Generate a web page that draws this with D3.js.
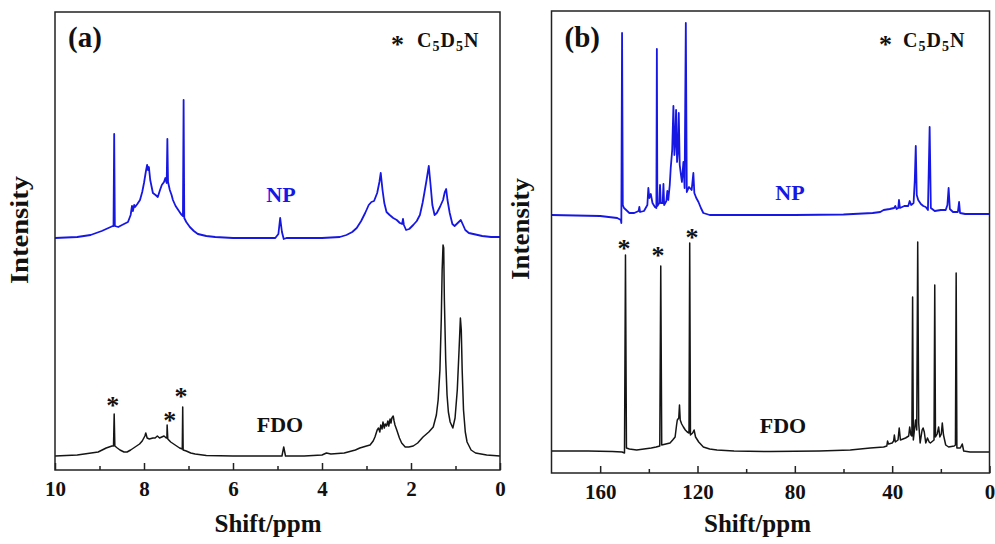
<!DOCTYPE html>
<html>
<head>
<meta charset="utf-8">
<script src="https://cdn.jsdelivr.net/npm/d3@7"></script>
<style>
  html, body { margin: 0; padding: 0; background: #fff; }
  svg { display: block; }
  text { font-family: "Liberation Serif", "Times New Roman", serif; font-weight: bold; }
</style>
</head>
<body>
<svg id="chart" width="995" height="544"></svg>
<script>
// ---------------- DATA ----------------
// (a) 1H NMR, shift in ppm, intensity in arbitrary units
const ticksA = [10, 8, 6, 4, 2, 0];
const minorTicksA = [9, 7, 5, 3, 1];
const domainA = [10, 0];
const intensityDomainA = [0, 458];

const npA = [
  [10.0,232],[9.5,233],[9.2,235],[8.95,239],[8.8,242],[8.7,244],[8.685,244],[8.67,336],[8.655,244],
  [8.58,243],[8.45,246],[8.36,248],[8.30,255],[8.27,264],[8.25,259],[8.22,265],[8.2,263],[8.15,266],
  [8.09,270],[8.04,278],[8.0,287],[7.96,298],[7.93,305],[7.91,300],[7.89,303],[7.86,290],[7.80,277],
  [7.74,275],[7.69,273],[7.64,280],[7.60,285],[7.55,288],[7.52,292],[7.49,287],[7.475,331],[7.46,288],
  [7.42,280],[7.38,275],[7.35,270],[7.29,264],[7.23,260],[7.17,256],[7.125,254],[7.11,370],[7.095,252],
  [7.05,248],[6.97,243],[6.88,239],[6.79,236],[6.6,234],[6.4,233],[6.0,232],[5.5,232],[5.05,232],
  [4.98,236],[4.94,252],[4.9,238],[4.86,231],[4.8,232],[4.0,232],[3.6,233],[3.45,235],[3.32,238],
  [3.22,242],[3.12,249],[3.03,257],[2.95,265],[2.89,268],[2.83,269],[2.76,277],[2.71,288],[2.68,297],
  [2.64,280],[2.6,267],[2.55,258],[2.48,255],[2.40,252],[2.32,250],[2.25,247],[2.2,246],[2.18,251],
  [2.16,245],[2.11,240],[2.04,241],[1.95,245],[1.87,249],[1.80,255],[1.74,267],[1.7,277],[1.65,290],
  [1.60,304],[1.56,285],[1.52,265],[1.47,255],[1.42,257],[1.35,263],[1.28,270],[1.24,278],[1.21,281],
  [1.18,270],[1.13,257],[1.07,246],[1.02,244],[0.95,247],[0.88,250],[0.83,245],[0.78,240],[0.7,237],
  [0.6,236],[0.4,234],[0.2,233],[0.0,233]
];

const fdoA = [
  [10.0,14],[9.5,15],[9.03,18],[8.85,22],[8.72,24],[8.685,24],[8.67,56],[8.655,24],[8.6,22],[8.54,20],
  [8.45,18],[8.38,18],[8.3,20],[8.2,23],[8.1,26],[8.04,29],[7.98,34],[7.96,37],[7.93,32],[7.88,31],
  [7.8,32],[7.75,32],[7.7,34],[7.65,32],[7.6,33],[7.55,34],[7.5,32],[7.485,32],[7.48,45],[7.465,31],
  [7.4,28],[7.3,25],[7.2,22],[7.14,21],[7.13,63],[7.12,20],[7.05,19],[6.95,17],[6.85,16],[6.6,14.5],
  [6.0,14],[5.2,14],[4.9,14],[4.86,23],[4.82,14],[4.4,14],[4.0,15],[3.9,17],[3.8,16],[3.5,17],
  [3.25,20],[3.15,22],[3.0,24],[2.92,25],[2.85,29],[2.81,33],[2.76,40],[2.73,42],[2.70,38],[2.68,45],
  [2.65,41],[2.63,48],[2.60,42],[2.58,46],[2.55,44],[2.52,49],[2.5,44],[2.47,51],[2.45,47],[2.43,52],
  [2.40,54],[2.38,49],[2.36,45],[2.32,40],[2.26,32],[2.21,27],
  [2.13,23],[2.05,23],[1.95,24],[1.85,27],[1.73,33],[1.6,38],[1.5,43],[1.43,55],[1.39,70],[1.35,100],
  [1.32,150],[1.30,200],[1.28,225],[1.265,222],[1.25,170],[1.22,110],[1.19,75],[1.16,58],[1.12,48],
  [1.06,42],[1.01,52],[0.96,80],[0.92,120],[0.89,152],[0.87,140],[0.85,100],[0.82,60],[0.78,38],
  [0.74,28],[0.65,20],[0.55,17],[0.3,15],[0.0,14]
];

const starsA = [[8.70,68],[7.42,53],[7.17,77]];

// (b) 13C NMR
const ticksB = [160, 120, 80, 40, 0];
const minorTicksB = [140, 100, 60, 20];
const domainB = [180, 0];
const intensityDomainB = [0, 462];

const npB = [
  [180,258],[170,257.5],[160,257],[153,255],[151.5,253],[151.3,250],[151.0,440],[150.7,268],[150.2,265],
  [148,260],[146,260],[144.2,262],[143.9,266],[143.6,261],[142,262],[140.6,268],[140.2,285],[139.8,275],
  [139.2,279],[138.5,270],[137.5,266],[136.9,265],[136.7,424],[136.5,267],[135.7,270],[135.4,288],
  [135.1,270],[134.3,270],[134.0,289],[133.7,268],[132.8,272],[132.4,282],[132.0,273],[131.4,288],
  [131.0,305],[130.4,323],[129.9,367],[129.5,318],[129.2,328],[128.8,363],[128.4,311],[128.0,323],
  [127.7,360],[127.3,308],[126.8,298],[126.4,291],[125.8,311],[125.3,285],[124.8,450],[124.4,281],
  [123.5,286],[122.4,283],[121.7,300],[121.3,280],[120.5,275],[119.6,271],[118.6,265],[117.6,260],
  [115,258],[110,258],[100,258],[80,258],[60,258.5],[48,260],[44.9,261],[43.5,263],[41,264],[39.2,265],
  [38.7,267],[38.2,264],[37.5,265],[37.2,273],[36.8,265],[35,267],[33.4,267],[32.8,272],[32.2,268],
  [31.2,270],[30.7,293],[30.3,327],[29.9,278],[29.3,273],[28.2,269],[27.2,267],[26.2,266],[25.3,263],
  [24.6,346],[24.1,265],[22.5,262],[20,263],[18,263],[17.3,268],[16.8,285],[16.3,264],[15,261],[13,261],
  [12.5,271],[12.1,260],[10,259],[5,259],[0,259]
];

const fdoB = [
  [180,22],[165,22],[155,21.5],[151,21],[150.0,20],[149.6,218],[149.2,25],[148,24],[145,23],[142,24],
  [139,25],[137,26],[135.5,27],[135.1,207],[134.7,28],[133,29],[131.3,30],[130.2,33],[129.2,36],
  [128.6,48],[128.3,53],[127.7,55],[127.4,68],[127.1,53],[126.5,49],[125.8,46],[125,43],[124.2,41],
  [123.5,40],[123.2,230],[122.9,38],[122.0,40],[121.4,43],[120.8,36],[119.5,31],[117.6,26],[115,24],
  [112,23],[105,22],[90,21.5],[70,22],[57.2,23],[49,25],[43.5,26],[42.2,27],[41.9,32],[41.5,29],[40,30],
  [39.4,32],[39.1,38],[38.7,31],[37.6,33],[37.1,45],[36.6,33],[34.5,35],[33.2,37],[32.8,46],[32.3,38],
  [31.9,37],[31.6,176],[31.3,33],[30.4,53],[29.9,43],[29.5,231],[29.1,50],[28.5,30],[27.7,43],[27.3,45],
  [26.8,41],[26.2,30],[25.5,35],[24.8,31],[24.3,30],[22.8,33],[22.5,188],[22.2,36],[21.5,39],[20.9,46],
  [20.4,36],[19.8,39],[19.4,50],[18.9,38],[18.0,28],[16.8,26],[14.5,27],[14.0,28],[13.7,200],[13.4,25],
  [12,25],[11.2,29],[10.6,22],[8,21],[4,21],[0,21]
];

const starsB = [[150.2,228],[136.2,221],[122.3,239]];

// ---------------- DRAW ----------------
const svg = d3.select("#chart");
const BLUE = "#1717e3";
const BLACK = "#151515";
const FONT = '"Liberation Serif", "Times New Roman", serif';

function panel(cfg) {
  const x = d3.scaleLinear().domain(cfg.domain).range([cfg.left, cfg.right]);
  const y = d3.scaleLinear().domain(cfg.yDomain).range([cfg.bottom, cfg.top]);
  const g = svg.append("g");

  const line = d3.line().x(d => x(d[0])).y(d => y(d[1]));
  g.append("path").datum(cfg.fdo).attr("d", line)
    .attr("fill", "none").attr("stroke", BLACK).attr("stroke-width", 1.5).attr("stroke-linejoin", "round");
  g.append("path").datum(cfg.np).attr("d", line)
    .attr("fill", "none").attr("stroke", BLUE).attr("stroke-width", 1.8).attr("stroke-linejoin", "round");

  // frame
  g.append("rect").attr("x", cfg.left).attr("y", cfg.top)
    .attr("width", cfg.right - cfg.left).attr("height", cfg.bottom - cfg.top)
    .attr("fill", "none").attr("stroke", "#222").attr("stroke-width", 1.5);

  // axes (ticks inward)
  const ax = g.append("g").attr("transform", `translate(0,${cfg.bottom})`)
    .call(d3.axisBottom(x).tickValues(cfg.ticks).tickSize(-7).tickPadding(11).tickFormat(d3.format("d")));
  ax.select(".domain").remove();
  ax.selectAll(".tick line").attr("stroke", "#222").attr("stroke-width", 1.5);
  ax.selectAll(".tick text").attr("font-family", FONT).attr("font-weight", "bold")
    .attr("font-size", 21).attr("fill", "#111");
  const mx = g.append("g").attr("transform", `translate(0,${cfg.bottom})`)
    .call(d3.axisBottom(x).tickValues(cfg.minor).tickSize(-4).tickFormat(""));
  mx.select(".domain").remove();
  mx.selectAll(".tick line").attr("stroke", "#222").attr("stroke-width", 1.5);

  // axis titles
  g.append("text").attr("x", cfg.xTitleX).attr("y", 532)
    .attr("text-anchor", "middle").attr("font-size", 25).attr("fill", "#111").text("Shift/ppm");
  g.append("text").attr("transform", `translate(${cfg.yTitle[0]},${cfg.yTitle[1]}) rotate(-90)`)
    .attr("text-anchor", "middle").attr("font-size", 25).attr("fill", "#111")
    .attr("textLength", cfg.yTitle[2]).attr("lengthAdjust", "spacingAndGlyphs").text("Intensity");

  // panel label
  g.append("text").attr("x", cfg.left + 13).attr("y", 47)
    .attr("font-size", 29).attr("fill", "#111").text(cfg.label);

  // legend
  g.append("text").attr("x", cfg.legend[0]).attr("y", 53).attr("text-anchor", "middle")
    .attr("font-size", 26).attr("fill", "#111").text("*");
  const lt = g.append("text").attr("x", cfg.legend[1]).attr("y", 47)
    .attr("font-size", 20).attr("letter-spacing", 1).attr("fill", "#111");
  lt.append("tspan").text("C");
  lt.append("tspan").attr("font-size", 14).attr("dy", 4).text("5");
  lt.append("tspan").attr("dy", -4).text("D");
  lt.append("tspan").attr("font-size", 14).attr("dy", 4).text("5");
  lt.append("tspan").attr("dy", -4).text("N");

  // spectrum labels
  g.append("text").attr("x", cfg.npLabel[0]).attr("y", cfg.npLabel[1]).attr("text-anchor", "middle")
    .attr("font-size", 22).attr("fill", BLUE).text("NP");
  g.append("text").attr("x", cfg.fdoLabel[0]).attr("y", cfg.fdoLabel[1]).attr("text-anchor", "middle")
    .attr("font-size", 22).attr("fill", "#111").text("FDO");

  // solvent asterisks
  g.selectAll(".star").data(cfg.stars).enter().append("text")
    .attr("x", d => x(d[0])).attr("y", d => y(d[1]) + 12)
    .attr("text-anchor", "middle").attr("font-size", 26).attr("fill", "#111").text("*");
}

panel({ left: 55, right: 500, top: 12, bottom: 470, domain: domainA, yDomain: intensityDomainA,
  ticks: ticksA, minor: minorTicksA, np: npA, fdo: fdoA, stars: starsA, label: "(a)",
  npLabel: [281, 202], fdoLabel: [280, 432], xTitleX: 268, yTitle: [28, 230, 108],
  legend: [397.5, 417] });
panel({ left: 551.5, right: 989.5, top: 11, bottom: 473, domain: domainB, yDomain: intensityDomainB,
  ticks: ticksB, minor: minorTicksB, np: npB, fdo: fdoB, stars: starsB, label: "(b)",
  npLabel: [790, 200], fdoLabel: [783, 433], xTitleX: 757.5, yTitle: [529, 229, 102],
  legend: [885.5, 903] });
</script>
</body>
</html>
